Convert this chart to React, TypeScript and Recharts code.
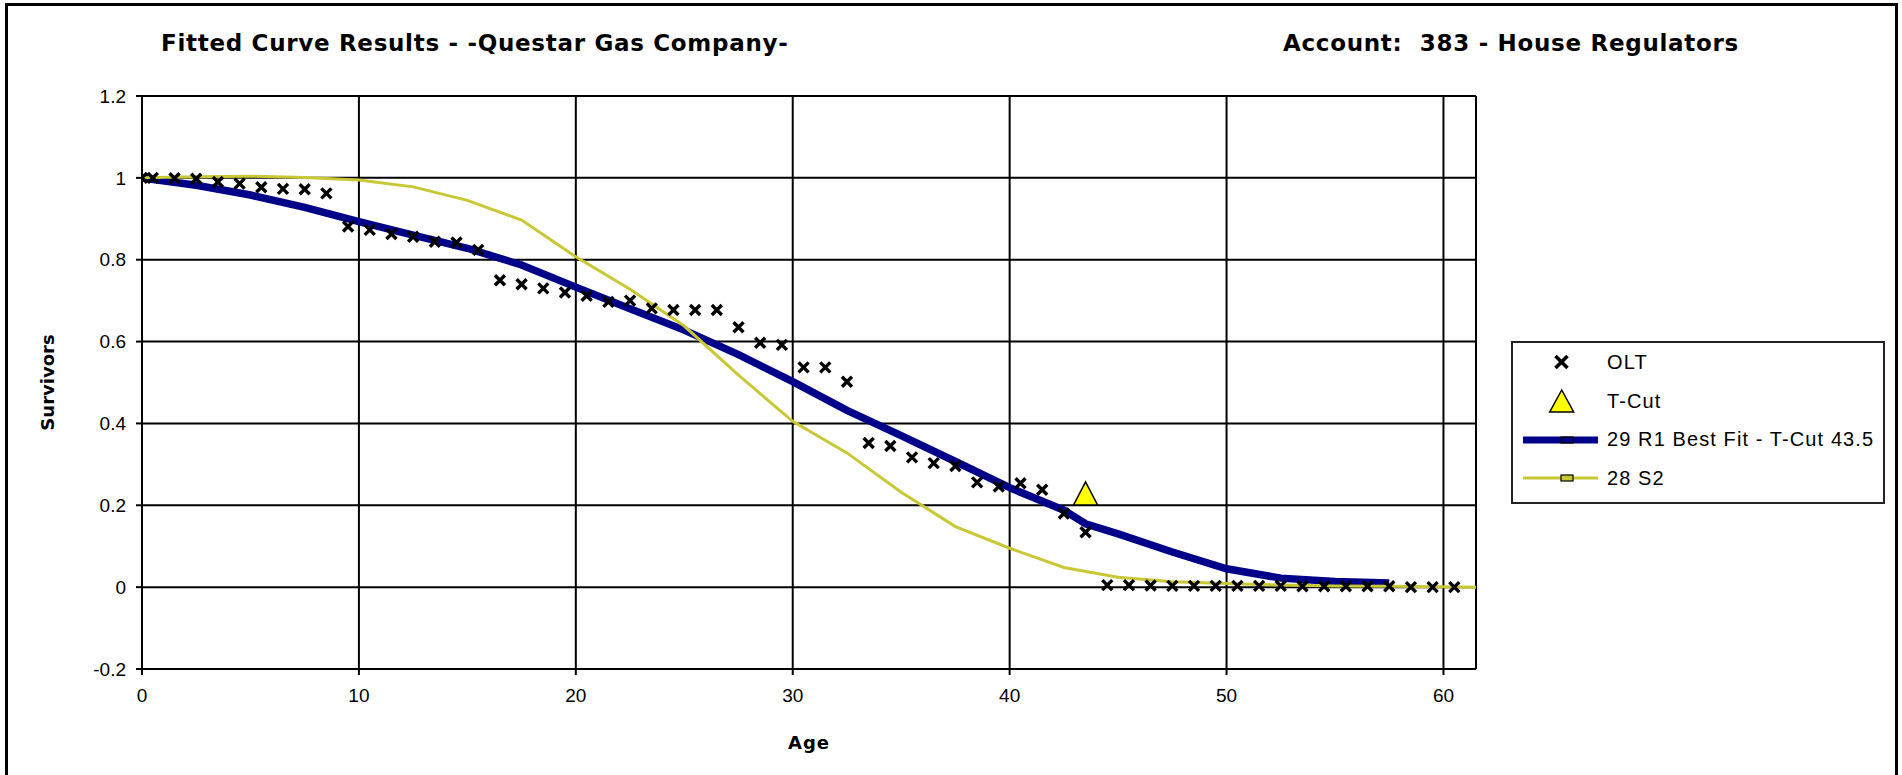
import React from "react";
import { CartesianGrid, ComposedChart, Label, Legend, Line, ReferenceLine, Scatter, XAxis, YAxis } from "recharts";

// observed life table points
const oltAges = [
  0, 0.5, 1.5, 2.5, 3.5, 4.5, 5.5, 6.5, 7.5, 8.5, 9.5, 10.5, 11.5, 12.5, 13.5, 14.5, 15.5, 16.5, 17.5, 18.5, 19.5,
  20.5, 21.5, 22.5, 23.5, 24.5, 25.5, 26.5, 27.5, 28.5, 29.5, 30.5, 31.5, 32.5, 33.5, 34.5, 35.5, 36.5, 37.5, 38.5,
  39.5, 40.5, 41.5, 42.5, 43.5, 44.5, 45.5, 46.5, 47.5, 48.5, 49.5, 50.5, 51.5, 52.5, 53.5, 54.5, 55.5, 56.5, 57.5,
  58.5, 59.5, 60.5,
];
const oltSurvivors = [
  1.0, 1.0, 0.999, 0.998, 0.99, 0.986, 0.977, 0.973, 0.972, 0.962, 0.881, 0.873, 0.863, 0.856, 0.844, 0.842, 0.824,
  0.75, 0.74, 0.73, 0.72, 0.712, 0.697, 0.7, 0.681, 0.677, 0.677, 0.677, 0.635, 0.597, 0.592, 0.537, 0.537, 0.502,
  0.352, 0.345, 0.317, 0.303, 0.296, 0.256, 0.246, 0.254, 0.238, 0.18, 0.134, 0.005, 0.005, 0.004, 0.003, 0.003,
  0.003, 0.003, 0.003, 0.003, 0.002, 0.002, 0.002, 0.002, 0.002, 0.0, 0.0, 0.0,
];

const tCutAges = [43.5];
const tCutSurvivors = [0.229];

// 29 R1 best fit
const r1Ages = [0, 2.5, 5, 7.5, 10, 12.5, 15, 17.5, 20, 22.5, 25, 27.5, 30, 32.5, 35, 37.5, 40, 42.5, 43.5, 45, 47.5, 50, 52.5, 55, 57.5];
const r1Survivors = [
  1.0, 0.982, 0.958, 0.928, 0.893, 0.86, 0.828, 0.787, 0.733, 0.68, 0.628, 0.568, 0.502, 0.432, 0.37, 0.307, 0.243,
  0.188, 0.155, 0.13, 0.086, 0.045, 0.022, 0.014, 0.01,
];

// 28 S2
const s2Ages = [0, 2.5, 5, 7.5, 10, 12.5, 15, 17.5, 20, 22.5, 25, 27.5, 30, 32.5, 35, 37.5, 40, 42.5, 45, 47.5, 50, 52.5, 55, 57.5, 60, 61.5];
const s2Survivors = [
  1.0, 1.003, 1.004, 1.001, 0.995, 0.978, 0.945, 0.897, 0.807, 0.728, 0.638, 0.518, 0.405, 0.328, 0.232, 0.148, 0.095,
  0.048, 0.024, 0.013, 0.009, 0.005, 0.003, 0.002, 0.001, 0.0,
];

const xTicks = [0, 10, 20, 30, 40, 50, 60];
const yTicks = [-0.2, 0, 0.2, 0.4, 0.6, 0.8, 1, 1.2];

const NAVY = "#000088";
const OLIVE = "#C8C836";

const zip = (xs: number[], ys: number[]) => xs.map((x, i) => ({ x, y: ys[i] }));

const oltData = zip(oltAges, oltSurvivors);
const tCutData = zip(tCutAges, tCutSurvivors);
const r1Data = zip(r1Ages, r1Survivors);
const s2Data = zip(s2Ages, s2Survivors);

const legendItems = [
  { name: "OLT", kind: "x" },
  { name: "T-Cut", kind: "tri" },
  { name: "29 R1 Best Fit - T-Cut 43.5", kind: "line", color: NAVY, width: 7 },
  { name: "28 S2", kind: "line", color: OLIVE, width: 3 },
];

function XMark(props: any) {
  const { cx, cy } = props;
  const s = 5;
  return (
    <path
      d={`M${cx - s},${cy - s}L${cx + s},${cy + s}M${cx - s},${cy + s}L${cx + s},${cy - s}`}
      stroke="#000"
      strokeWidth={3.4}
      fill="none"
    />
  );
}

function Triangle(props: any) {
  const { cx, cy } = props;
  return (
    <polygon
      points={`${cx},${cy - 11.5} ${cx - 12},${cy + 11.5} ${cx + 12},${cy + 11.5}`}
      fill="#FFFF00"
      stroke="#000"
      strokeWidth={1.5}
    />
  );
}

function LegendBox() {
  return (
    <div
      style={{
        boxSizing: "border-box",
        width: 374,
        height: 163,
        border: "2px solid #222",
        background: "#fff",
        fontFamily: "'Liberation Sans', Arial, sans-serif",
        fontSize: 20,
        letterSpacing: 1.1,
        color: "#000",
      }}
    >
      {legendItems.map((it) => (
        <div key={it.name} style={{ display: "flex", alignItems: "center", height: 38.7 }}>
          <svg width={94} height={30} style={{ flex: "none" }}>
            {it.kind === "x" && (
              <path d="M42.5,9L54.5,21M42.5,21L54.5,9" stroke="#000" strokeWidth={3.6} />
            )}
            {it.kind === "tri" && (
              <polygon points="48.7,4 36.7,26 60.7,26" fill="#FFFF00" stroke="#000" strokeWidth={1.5} />
            )}
            {it.kind === "line" && (
              <>
                <line x1={10} y1={15} x2={85} y2={15} stroke={it.color} strokeWidth={it.width} />
                <rect x={48} y={12} width={12} height={6} fill={it.color} stroke="#000" strokeWidth={1.2} />
              </>
            )}
          </svg>
          <span style={{ whiteSpace: "pre" }}>{it.name}</span>
        </div>
      ))}
    </div>
  );
}

const tickStyle = { fill: "#000", fontSize: 19, fontFamily: "'Liberation Sans', Arial, sans-serif" };

export default function App() {
  return (
    <div
      style={{
        position: "absolute",
        left: 0,
        top: 0,
        width: 1902,
        height: 775,
        overflow: "hidden",
        background: "#fff",
        fontFamily: "'Liberation Sans', Arial, sans-serif",
      }}
    >
      <ComposedChart width={1902} height={775} margin={{ top: 96, right: 426, bottom: 66, left: 82 }}>
        <CartesianGrid stroke="#000" strokeWidth={2} />
        <XAxis
          type="number"
          dataKey="x"
          domain={[0, 61.5]}
          ticks={xTicks}
          interval={0}
          allowDataOverflow
          height={40}
          tickSize={6}
          tickMargin={14}
          axisLine={{ stroke: "#000", strokeWidth: 2 }}
          tickLine={{ stroke: "#000", strokeWidth: 2 }}
          tick={tickStyle}
        >
          <Label
            value="Age"
            position="bottom"
            offset={27}
            style={{ fill: "#000", fontSize: 18, fontWeight: "bold", fontFamily: "'DejaVu Sans', sans-serif", letterSpacing: 1 }}
          />
        </XAxis>
        <YAxis
          type="number"
          dataKey="y"
          domain={[-0.2, 1.2]}
          ticks={yTicks}
          interval={0}
          allowDataOverflow
          width={60}
          tickSize={6}
          tickMargin={10}
          axisLine={{ stroke: "#000", strokeWidth: 2 }}
          tickLine={{ stroke: "#000", strokeWidth: 2 }}
          tick={tickStyle}
        >
          <Label
            content={(p: any) => {
              const vb = p.viewBox;
              const x = vb.x - 28;
              const y = vb.y + vb.height / 2;
              return (
                <text
                  x={x}
                  y={y}
                  transform={`rotate(-90, ${x}, ${y})`}
                  textAnchor="middle"
                  fill="#000"
                  fontSize={18}
                  fontWeight="bold"
                  fontFamily="'DejaVu Sans', sans-serif"
                >
                  Survivors
                </text>
              );
            }}
          />
        </YAxis>
        <ReferenceLine x={61.5} stroke="#000" strokeWidth={2} />
        <Scatter name="OLT" data={oltData} dataKey="y" shape={XMark} isAnimationActive={false} />
        <Scatter name="T-Cut" data={tCutData} dataKey="y" shape={Triangle} isAnimationActive={false} />
        <Line
          name="29 R1 Best Fit - T-Cut 43.5"
          data={r1Data}
          dataKey="y"
          type="linear"
          stroke={NAVY}
          strokeWidth={7.5}
          dot={false}
          activeDot={false}
          isAnimationActive={false}
        />
        <Line
          name="28 S2"
          data={s2Data}
          dataKey="y"
          type="linear"
          stroke={OLIVE}
          strokeWidth={3}
          dot={false}
          activeDot={false}
          isAnimationActive={false}
        />
        <Legend
          layout="horizontal"
          verticalAlign="middle"
          align="center"
          content={() => <LegendBox />}
          wrapperStyle={{ left: 1511, top: 341, width: 374, height: 163 }}
        />
      </ComposedChart>

      <div
        style={{
          position: "absolute",
          left: 5,
          top: 3,
          width: 1893,
          height: 800,
          boxSizing: "border-box",
          border: "3px solid #000",
          pointerEvents: "none",
        }}
      />
      <div
        style={{
          position: "absolute",
          left: 161,
          top: 32,
          fontFamily: "'DejaVu Sans', sans-serif",
          fontWeight: "bold",
          fontSize: 23,
          lineHeight: "23px",
          letterSpacing: 0.7,
          whiteSpace: "pre",
        }}
      >
        Fitted Curve Results - -Questar Gas Company-
      </div>
      <div
        style={{
          position: "absolute",
          left: 1283,
          top: 32,
          fontFamily: "'DejaVu Sans', sans-serif",
          fontWeight: "bold",
          fontSize: 23,
          lineHeight: "23px",
          letterSpacing: 0.7,
          whiteSpace: "pre",
        }}
      >
        {"Account:  383 - House Regulators"}
      </div>
    </div>
  );
}
